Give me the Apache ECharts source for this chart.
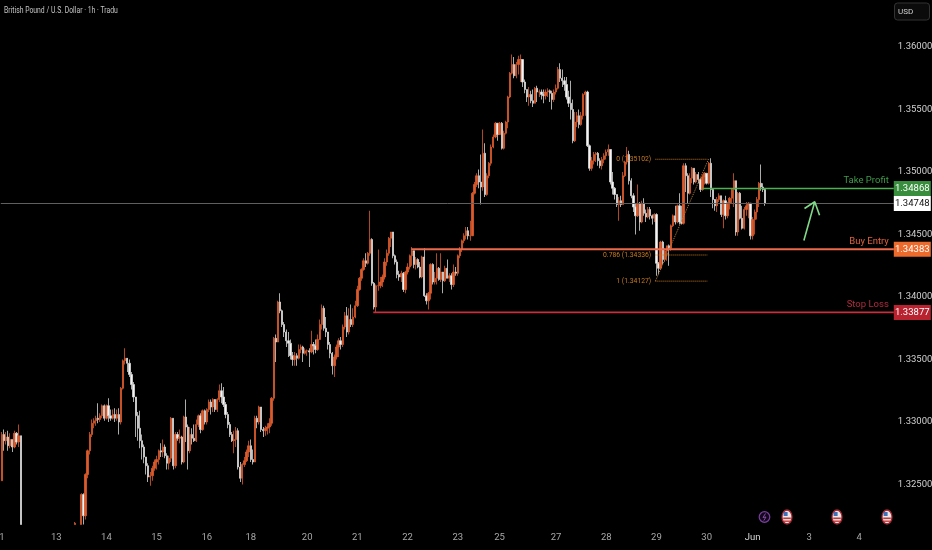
<!DOCTYPE html>
<html>
<head>
<meta charset="utf-8">
<style>html,body{margin:0;padding:0;background:#000}#c{width:932px;height:550px}</style>
<script src="https://cdn.jsdelivr.net/npm/echarts@6/dist/echarts.min.js"></script>
</head>
<body>
<div id="c"></div>
<script>
// All candle values are pips above 1.3000 (1 pip = 0.0001). A candle opens at the previous close.
// Bars that run below the visible floor of the chart are cut at that floor (218) or left empty.
const BASE = 1.3, PIP = 0.0001;
const N_BARS = 427;
const n10 = null;
const closePips = [
290,285,288,281,286,280,291,284,289,218,
n10,n10,n10,n10,n10,n10,n10,n10,n10,n10,
n10,n10,n10,n10,n10,n10,n10,n10,n10,n10,
n10,n10,n10,n10,n10,219,n10,n10,242,225,
258,277,290,299,301,303,302,305,313,303,
313,305,303,306,303,306,300,327,349,351,
347,338,330,320,305,295,285,280,272,265,
256,257,263,268,270,277,276,280,273,267,
271,303,265,290,287,288,268,304,296,277,
290,287,285,298,305,294,309,300,310,316,
312,318,310,318,325,320,314,306,298,290,
285,286,293,264,255,266,269,276,281,270,
268,303,300,312,294,293,295,296,299,319,
367,364,396,389,378,372,365,363,353,350,
353,351,358,360,355,357,357,356,362,361,
358,366,378,391,375,372,362,355,345,352,
360,365,362,376,385,372,382,378,384,393,
406,415,422,429,427,435,446,411,392,409,
409,412,416,428,435,447,452,433,428,418,
416,419,406,420,424,433,437,426,430,424,
416,432,401,397,403,426,412,415,423,414,
420,413,423,415,417,410,420,419,433,438,
445,449,453,449,449,483,490,497,492,488,
515,482,497,507,520,528,539,530,539,519,
531,540,560,579,586,577,586,590,590,572,
566,560,562,557,555,567,564,564,562,561,
564,565,563,558,564,567,582,575,573,570,
560,555,550,525,540,545,538,545,562,564,
521,503,509,514,515,509,505,510,513,516,
518,492,487,482,474,477,474,497,508,514,
493,481,472,465,475,460,475,467,464,470,
465,463,466,427,423,444,430,437,441,439,
457,465,460,473,460,459,505,497,483,495,
503,492,498,494,486,496,499,491,507,486,
478,473,478,481,466,477,465,475,479,486,
493,452,483,463,455,470,473,475,449,462,
468,478,491,488,486,475];
const highPips = [
292,294,292,293,291,286,293,292,298,289,
n10,n10,n10,n10,n10,n10,n10,n10,n10,n10,
n10,n10,n10,n10,n10,n10,n10,n10,n10,n10,
n10,n10,n10,n10,n10,220,n10,n10,243,243,
259,278,292,302,303,305,315,307,314,314,
314,319,310,310,311,310,311,328,350,359,
350,350,340,332,318,308,309,290,282,272,
267,260,265,270,273,278,283,286,282,275,
273,304,303,292,292,294,289,305,318,298,
296,295,298,302,306,307,310,310,311,318,
318,319,316,319,330,331,328,316,308,300,
292,293,296,295,268,267,272,278,285,286,
278,305,305,313,312,296,297,299,303,320,
368,370,397,403,390,380,374,372,366,356,
356,355,362,362,361,359,358,359,373,364,
366,370,382,394,393,384,372,364,356,354,
362,367,368,378,388,392,391,394,391,397,
409,416,423,431,435,436,469,447,412,410,
438,416,418,431,438,448,452,452,434,430,
421,421,420,421,427,434,440,436,432,431,
428,433,439,403,404,427,427,420,435,424,
435,420,425,430,419,419,426,424,434,440,
446,451,456,456,461,484,492,499,502,514,
534,523,499,508,522,530,540,538,540,540,
533,541,561,580,594,592,588,593,594,590,
574,566,568,565,566,568,569,566,566,566,
566,567,566,565,566,570,584,587,582,576,
576,565,573,558,548,548,550,548,563,565,
565,522,512,516,516,516,511,512,515,518,
522,518,500,488,482,480,481,500,509,520,
517,495,483,475,490,476,477,479,470,472,
472,466,467,467,428,445,445,439,441,442,
458,466,473,474,483,473,507,507,499,499,
504,503,500,500,495,498,500,499,508,511,
487,477,480,483,481,478,481,476,480,487,
499,493,484,484,473,472,476,476,475,464,
470,480,492,506,491,487];
const lowPips = [
253,277,282,277,279,276,279,282,280,218,
n10,n10,n10,n10,n10,n10,n10,n10,n10,n10,
n10,n10,n10,n10,n10,n10,n10,n10,n10,n10,
n10,n10,n10,n10,n10,218,n10,n10,218,218,
222,255,274,288,295,297,299,300,303,301,
302,300,301,302,300,301,290,298,326,346,
340,336,326,316,288,285,279,270,267,258,
252,249,253,261,262,266,272,272,271,262,
262,268,262,263,285,283,266,267,284,262,
275,282,284,284,296,291,293,298,298,308,
306,308,308,308,316,315,312,303,295,288,
284,275,280,262,252,250,264,268,272,268,
266,268,295,298,292,288,289,290,291,297,
317,348,364,387,376,368,360,352,350,345,
345,345,350,355,348,354,353,344,355,354,
355,357,372,374,373,368,358,351,338,336,
350,352,358,360,374,368,370,376,376,383,
392,405,413,421,424,426,433,409,390,388,
405,407,408,414,425,433,440,431,426,415,
413,412,404,403,418,422,425,423,422,423,
415,415,400,394,390,398,410,410,410,413,
412,403,412,415,412,406,408,417,417,431,
436,443,446,446,445,462,482,488,487,474,
485,480,481,495,505,519,527,525,530,518,
518,530,535,559,578,575,575,578,572,568,
563,556,553,555,552,555,556,560,558,555,
558,560,556,550,556,562,566,572,568,565,
558,552,542,523,524,536,535,537,542,545,
520,501,501,506,508,505,503,502,507,510,
513,490,482,478,472,461,472,474,496,506,
490,479,468,450,464,453,459,465,460,463,
462,458,460,417,418,422,426,428,429,425,
437,456,458,459,458,458,458,484,475,482,
491,490,491,491,484,485,490,490,490,480,
471,469,468,476,464,455,462,463,470,475,
472,449,449,462,454,454,465,463,446,446,
450,462,472,485,484,473];

const dayIndex  = [0,26,50,74,98,119,146,170,194,218,238,265,289,313,337,359,386,410];
const dayLabels = ['1','13','14','15','16','18','20','21','22','23','25','27','28','29','30','Jun','3','4'];
const priceTicks = [1.325,1.33,1.335,1.34,1.345,1.35,1.355,1.36];
const Y_MIN = 1.32176, Y_MAX = 1.36376;

const takeProfit = 1.34868, buyEntry = 1.34383, stopLoss = 1.33877, lastPrice = 1.34748;
const fib0 = 1.35102, fib786 = 1.34336, fib1 = 1.34127;
const arrowBars   = [384, 389.2, 384.3, 389.2, 391.5];
const arrowPrices = [1.34452, 1.34762, 1.34708, 1.34762, 1.34654];

const price = p => p === null ? null : +(BASE + p * PIP).toFixed(5);
const categories = Array.from({length: N_BARS}, (_, i) => {
  const k = dayIndex.indexOf(i); return k >= 0 ? dayLabels[k] : '';
});
const candles = closePips.map((c, i) => {
  if (c === null) return ['-','-','-','-'];
  const prev = i > 0 ? closePips[i-1] : null;
  const o = prev === null ? lowPips[i] : prev;
  return [price(o), price(c), price(lowPips[i]), price(highPips[i])];
});

const FONT = 'Roboto';
const hLine = (name, x0, x1, y, color, width, type) => ({
  name, type:'line', xAxisIndex:1, yAxisIndex:0, symbol:'none', silent:true, animation:false,
  data:[[x0,y],[x1,y]], lineStyle:{color, width, type:type||'solid'}, z:type?4:5
});
const textPoint = (x, y, text, color, size, position, extra) => ({
  value:[x,y],
  label:Object.assign({show:true, formatter:text, color, fontFamily:FONT, fontSize:size, position}, extra||{})
});
const tag = (y, bg, fg) => ({
  value:[N_BARS,y],
  label:{show:true, position:'right', distance:0, offset:[18.5,0], formatter:y.toFixed(5), color:fg, backgroundColor:bg,
    fontFamily:FONT, fontSize:9.5, width:37, height:15, lineHeight:15, align:'center', verticalAlign:'middle'}
});

const series = [
  {name:'GBPUSD', type:'candlestick', xAxisIndex:0, yAxisIndex:0, data:candles, barWidth:1.8, animation:false, silent:true, z:3, clip:true,
   itemStyle:{color:'#dd5a2c', color0:'#f4f4f4', borderColor:'#dd5a2c', borderColor0:'#d8d8d8', borderWidth:0.8}},
  hLine('Last price', 0, N_BARS, lastPrice, '#5f5f5f', 1),
  hLine('Take Profit', 335.5, N_BARS, takeProfit, '#4caf50', 1.6),
  hLine('Buy Entry', 196.3, N_BARS, buyEntry, '#ec6a4c', 2),
  hLine('Stop Loss', 178.1, N_BARS, stopLoss, '#c72f3d', 1.8),
  hLine('Fib 0', 313, 338, fib0, '#c97a1e', 1, 'dotted'),
  hLine('Fib 0.786', 313, 338, fib786, '#c97a1e', 1, 'dotted'),
  hLine('Fib 1', 313, 338, fib1, '#c97a1e', 1, 'dotted'),
  {name:'Fib trend', type:'line', xAxisIndex:1, symbol:'none', silent:true, animation:false, z:4,
   data:[[313,fib1],[338.4,fib0]], lineStyle:{color:'#b9823a', width:1, type:'dotted'}},
  {name:'Arrow', type:'line', xAxisIndex:1, symbol:'none', silent:true, animation:false, z:6,
   data:arrowBars.map((b,i)=>[b,arrowPrices[i]]), lineStyle:{color:'#7fd987', width:1.6}},
  {name:'Texts', type:'scatter', xAxisIndex:1, symbolSize:0, silent:true, animation:false, clip:false, z:10,
   itemStyle:{opacity:1},
   data:[
     textPoint(424.6, takeProfit, 'Take Profit', '#3f9a4a', 9.5, 'top', {align:'right', distance:3}),
     textPoint(424.6, buyEntry, 'Buy Entry', '#e0603a', 9.5, 'top', {align:'right', distance:3}),
     textPoint(424.6, stopLoss, 'Stop Loss', '#b22a3f', 9.5, 'top', {align:'right', distance:3}),
     textPoint(311, fib0, '0 (1.35102)', '#c97a1e', 6.8, 'left', {distance:0}),
     textPoint(311, fib786, '0.786 (1.34336)', '#c97a1e', 6.8, 'left', {distance:0}),
     textPoint(311, fib1, '1 (1.34127)', '#c97a1e', 6.8, 'left', {distance:0}),
     tag(lastPrice, '#ffffff', '#111111'),
     tag(takeProfit, '#388e3c', '#ffffff'),
     tag(buyEntry, '#ed6a2d', '#ffffff'),
     tag(stopLoss, '#b8232f', '#ffffff')
   ]}
];

const flagXs = [787, 837, 887];
const graphics = [
  {type:'text', x:4, y:6, scaleX:0.72, style:{text:'British Pound / U.S. Dollar · 1h · Tradu', fill:'#c4c4c4', font:'9.5px Roboto'}},
  {type:'rect', shape:{x:894.5,y:3,width:35,height:17,r:3}, style:{fill:'#0b0b0b', stroke:'#333333', lineWidth:1}},
  {type:'text', x:898, y:8, style:{text:'USD', fill:'#d0d0d0', font:'8px Roboto'}},
  {type:'circle', shape:{cx:764.5,cy:517,r:5.3}, style:{fill:'#14081c', stroke:'#7b3fa0', lineWidth:1.2}},
  {type:'polyline', shape:{points:[[765.5,513.5],[763,517.5],[766,517],[763.8,520.5]]}, style:{fill:null, stroke:'#8e52b3', lineWidth:0.9}}
];
flagXs.forEach(x => {
  graphics.push(
    {type:'ellipse', shape:{cx:x,cy:517,rx:5,ry:7}, style:{fill:'#e8e8e8', stroke:'#a8212c', lineWidth:1.3}},
    {type:'rect', shape:{x:x-3.4,y:512,width:4,height:4}, style:{fill:'#3f6fb5'}},
    {type:'rect', shape:{x:x-3.8,y:517.5,width:7.6,height:1.6}, style:{fill:'#c83a3a'}},
    {type:'rect', shape:{x:x-3,y:520.5,width:6,height:1.4}, style:{fill:'#c83a3a'}}
  );
});

const chart = echarts.init(document.getElementById('c'), null, {renderer:'canvas'});
chart.setOption({
  backgroundColor:'#000000',
  animation:false,
  grid:{left:0.8, right:38.2, top:0, height:525, containLabel:false, outerBoundsMode:'none'},
  xAxis:[
    {type:'category', data:categories, boundaryGap:true, gridIndex:0,
     axisLine:{show:false}, axisTick:{show:false}, splitLine:{show:false},
     axisLabel:{interval:(i)=>dayIndex.indexOf(i)>=0, hideOverlap:false, margin:8, color:'#a8a8a8', fontFamily:FONT, fontSize:9.5,
       formatter:(v)=>v==='Jun'?'{b|Jun}':v, rich:{b:{color:'#d6d6d6', fontFamily:FONT, fontSize:9.5}}}},
    {type:'value', min:0, max:N_BARS, gridIndex:0, show:false, splitLine:{show:false}}
  ],
  yAxis:[{type:'value', position:'right', min:Y_MIN, max:Y_MAX, gridIndex:0, scale:true,
    axisLine:{show:false}, axisTick:{show:false}, splitLine:{show:false},
    axisLabel:{customValues:priceTicks, margin:4, color:'#d0d0d0', fontFamily:FONT, fontSize:9.5, showMinLabel:true, showMaxLabel:true,
      formatter:(v)=>v.toFixed(5)}}],
  series,
  graphic:graphics
});
</script>
</body>
</html>
